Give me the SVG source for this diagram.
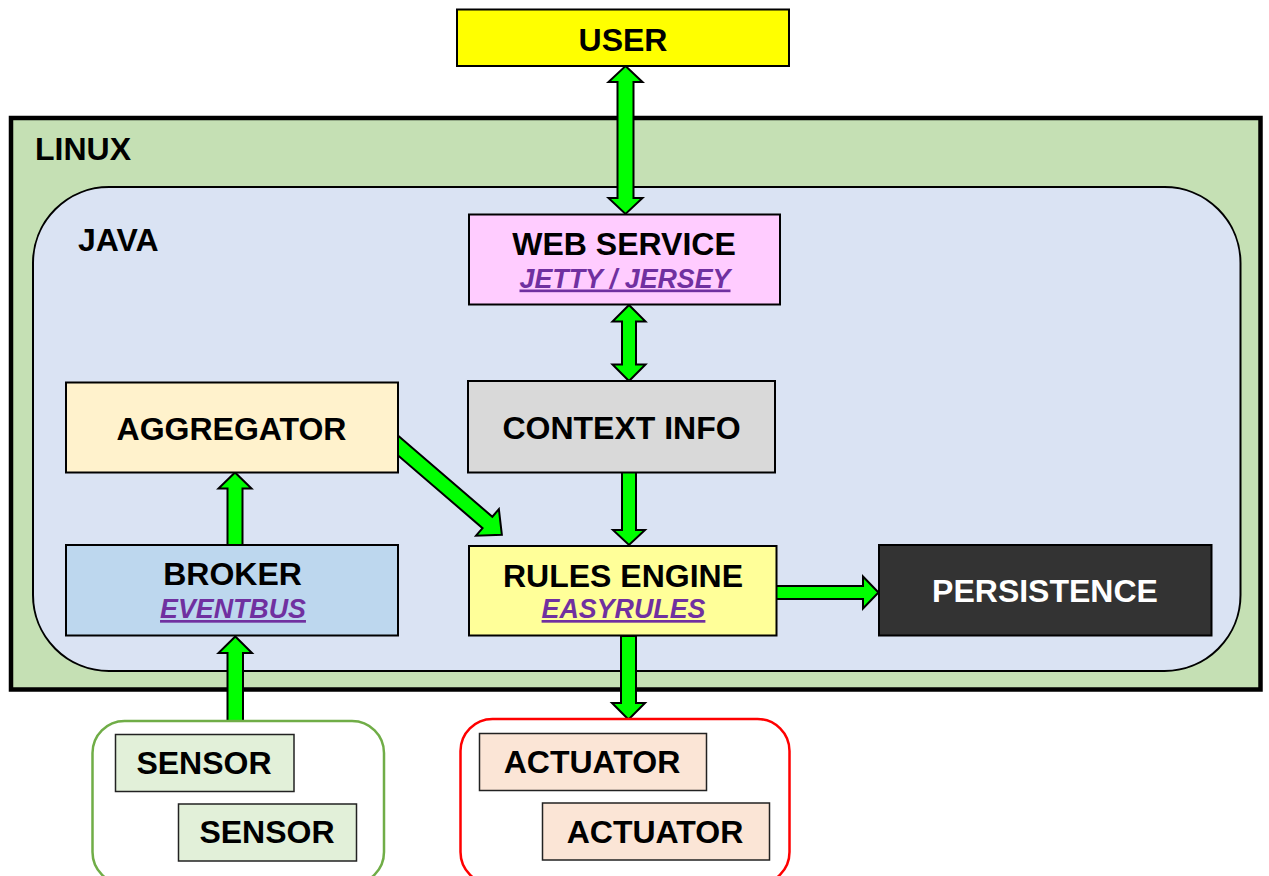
<svg xmlns="http://www.w3.org/2000/svg" width="1269" height="876" viewBox="0 0 1269 876">
  <style>
    .lbl { font-family: "Liberation Sans", Arial, sans-serif; font-weight: bold; font-size: 32px; fill: #000; text-anchor: middle; }
    .sub { font-family: "Liberation Sans", Arial, sans-serif; font-weight: bold; font-style: italic; font-size: 26.8px; fill: #7030a0; text-anchor: middle; text-decoration: underline; }
    .box { stroke: #000; stroke-width: 2; }
    .dev { stroke: #222; stroke-width: 1.5; }
    .arrow { fill: #00ff00; stroke: #000; stroke-width: 2; stroke-linejoin: miter; }
  </style>

  <rect width="1269" height="876" fill="#ffffff"/>

  <!-- containers -->
  <g id="linux">
    <rect x="11" y="118" width="1249.5" height="571.5" fill="#c5e0b4" stroke="#000" stroke-width="4.5"/>
    <text class="lbl" x="35" y="160" style="text-anchor:start">LINUX</text>
  </g>
  <g id="java">
    <rect x="33" y="187" width="1207.5" height="484" rx="76" ry="76" fill="#dae3f3" stroke="#000" stroke-width="2"/>
    <text class="lbl" x="78" y="251" style="text-anchor:start">JAVA</text>
  </g>

  <!-- connectors (block arrows) -->
  <g id="connectors">
    <!-- USER <-> WEB SERVICE -->
    <path class="arrow" d="M625.5,66 L642.5,82 L633.5,82 L633.5,198 L642.5,198 L625.5,214 L608.5,198 L617.5,198 L617.5,82 L608.5,82 Z"/>
    <!-- WEB SERVICE <-> CONTEXT INFO -->
    <path class="arrow" d="M629,305 L645.5,321.5 L636,321.5 L636,364.5 L645.5,364.5 L629,381 L612.5,364.5 L622,364.5 L622,321.5 L612.5,321.5 Z"/>
    <!-- CONTEXT INFO -> RULES ENGINE -->
    <path class="arrow" d="M622,472 L636,472 L636,530 L645,530 L629,545 L613,530 L622,530 Z"/>
    <!-- BROKER -> AGGREGATOR -->
    <path class="arrow" d="M227.5,545 L242.5,545 L242.5,488.5 L251.5,488.5 L235,472.5 L218.5,488.5 L227.5,488.5 Z"/>
    <!-- SENSORS -> BROKER -->
    <path class="arrow" d="M227.5,722 L243,722 L243,653 L252,653 L235.3,636.5 L218.5,653 L227.5,653 Z"/>
    <!-- RULES ENGINE -> ACTUATORS -->
    <path class="arrow" d="M621,636 L636,636 L636,703 L645,703 L628.5,719.5 L612,703 L621,703 Z"/>
    <!-- RULES ENGINE -> PERSISTENCE -->
    <path class="arrow" d="M776,586 L863,586 L863,576.5 L878.5,592.5 L863,608.5 L863,599 L776,599 Z"/>
    <!-- AGGREGATOR -> RULES ENGINE -->
    <path class="arrow" transform="translate(398 445.5) rotate(40.7)" d="M-15,-7.5 L118,-7.5 L118,-17.5 L137,0 L118,17.5 L118,7.5 L-15,7.5 Z"/>
  </g>

  <!-- nodes -->
  <g id="user">
    <rect class="box" x="457" y="9.5" width="332" height="56.5" fill="#ffff00"/>
    <text class="lbl" x="623" y="50.5">USER</text>
  </g>
  <g id="web-service">
    <rect class="box" x="469" y="214.5" width="311" height="90" fill="#ffccff"/>
    <text class="lbl" x="624" y="254.5">WEB SERVICE</text>
    <text class="sub" x="625" y="287.5">JETTY / JERSEY</text>
  </g>
  <g id="context-info">
    <rect class="box" x="468" y="381" width="307" height="91.5" fill="#d9d9d9"/>
    <text class="lbl" x="621.5" y="439">CONTEXT INFO</text>
  </g>
  <g id="aggregator">
    <rect class="box" x="66" y="382.5" width="332" height="90" fill="#fff2cc"/>
    <text class="lbl" x="231.5" y="440">AGGREGATOR</text>
  </g>
  <g id="broker">
    <rect class="box" x="66" y="545" width="332" height="90.5" fill="#bdd7ee"/>
    <text class="lbl" x="232.5" y="585">BROKER</text>
    <text class="sub" x="233" y="618">EVENTBUS</text>
  </g>
  <g id="rules-engine">
    <rect class="box" x="469" y="546" width="307.5" height="89.5" fill="#ffff99"/>
    <text class="lbl" x="623" y="587">RULES ENGINE</text>
    <text class="sub" x="623.5" y="618">EASYRULES</text>
  </g>
  <g id="persistence">
    <rect class="box" x="879" y="545" width="332.5" height="90.5" fill="#333333"/>
    <text class="lbl" x="1045" y="602" style="fill:#ffffff">PERSISTENCE</text>
  </g>

  <g id="sensors">
    <rect x="92.5" y="721" width="291.5" height="163" rx="32" ry="32" fill="#ffffff" stroke="#70ad47" stroke-width="2.5"/>
    <g id="sensor-1">
      <rect class="dev" x="115.5" y="734.5" width="178.5" height="57" fill="#e2f0d9"/>
      <text class="lbl" x="204" y="774">SENSOR</text>
    </g>
    <g id="sensor-2">
      <rect class="dev" x="178.5" y="804" width="178" height="57" fill="#e2f0d9"/>
      <text class="lbl" x="267" y="843">SENSOR</text>
    </g>
  </g>

  <g id="actuators">
    <rect x="460.5" y="719" width="329" height="165" rx="32" ry="32" fill="#ffffff" stroke="#ff0000" stroke-width="2.5"/>
    <g id="actuator-1">
      <rect class="dev" x="479.5" y="733.5" width="227" height="57" fill="#fbe5d6"/>
      <text class="lbl" x="592" y="773">ACTUATOR</text>
    </g>
    <g id="actuator-2">
      <rect class="dev" x="542.5" y="803" width="227" height="57" fill="#fbe5d6"/>
      <text class="lbl" x="655" y="842.5">ACTUATOR</text>
    </g>
  </g>
</svg>
